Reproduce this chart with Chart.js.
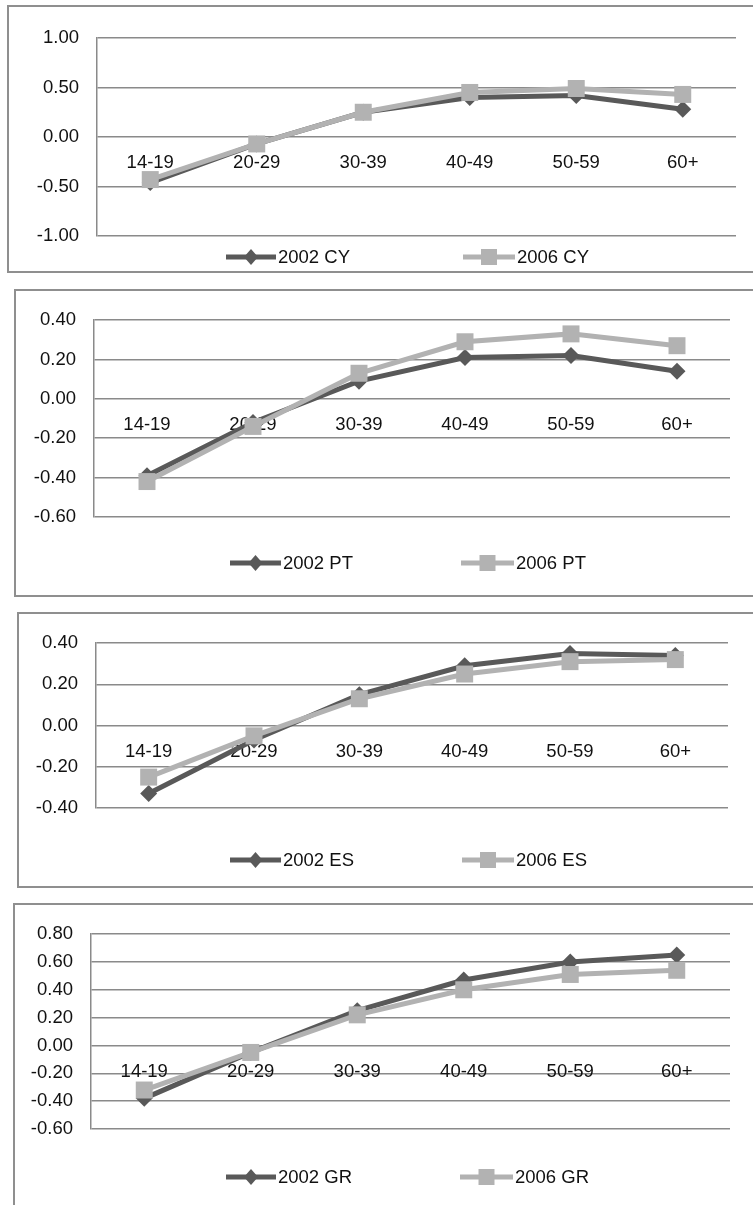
<!DOCTYPE html>
<html>
<head>
<meta charset="utf-8">
<script src="https://cdn.jsdelivr.net/npm/chart.js@4"></script>
<style>
  body { margin: 0; background: #fff; width: 753px; height: 1205px; position: relative; overflow: hidden; }
  .box { position: absolute; border: 2px solid #8f8f8f; box-sizing: border-box; }
  canvas { position: absolute; }
</style>
</head>
<body>
<div class="box" style="left:7px;top:5px;width:800px;height:268px"></div>
<div class="box" style="left:14px;top:289px;width:800px;height:308px"></div>
<div class="box" style="left:17px;top:612px;width:800px;height:276px"></div>
<div class="box" style="left:13px;top:903px;width:800px;height:400px"></div>

<canvas id="chartCY" style="left:9px;top:7px" width="744" height="264"></canvas>
<canvas id="chartPT" style="left:16px;top:291px" width="737" height="303"></canvas>
<canvas id="chartES" style="left:19px;top:614px" width="734" height="271"></canvas>
<canvas id="chartGR" style="left:15px;top:905px" width="738" height="300"></canvas>

<script>
// age groups on the x axis
const ageGroups = ["14-19", "20-29", "30-39", "40-49", "50-59", "60+"];

// values, one array per series
const cy2002 = [-0.46, -0.07, 0.25, 0.40, 0.42, 0.28];
const cy2006 = [-0.43, -0.07, 0.25, 0.45, 0.49, 0.43];
const pt2002 = [-0.39, -0.12, 0.09, 0.21, 0.22, 0.14];
const pt2006 = [-0.42, -0.14, 0.13, 0.29, 0.33, 0.27];
const es2002 = [-0.33, -0.07, 0.15, 0.29, 0.35, 0.34];
const es2006 = [-0.25, -0.05, 0.13, 0.25, 0.31, 0.32];
const gr2002 = [-0.38, -0.05, 0.25, 0.47, 0.60, 0.65];
const gr2006 = [-0.32, -0.05, 0.22, 0.40, 0.51, 0.54];

const DARK = "#595959";
const LIGHT = "#b2b2b2";
const GRID = "#8a8a8a";
const FONT = { family: "'Liberation Sans', Arial, sans-serif", size: 18.5 };

// draws the Excel style legend: a thick line with the marker in the middle
const lineLegend = {
  id: "lineLegend",
  afterDraw(chart, args, opts) {
    const ctx = chart.ctx;
    ctx.save();
    chart.data.datasets.forEach((ds, i) => {
      const [x1, x2] = opts.items[i];
      const y = opts.y;
      ctx.strokeStyle = ds.borderColor;
      ctx.lineWidth = 5;
      ctx.beginPath();
      ctx.moveTo(x1, y);
      ctx.lineTo(x2, y);
      ctx.stroke();
      const mx = (x1 + x2) / 2;
      ctx.fillStyle = ds.borderColor;
      ctx.beginPath();
      if (ds.pointStyle === "rectRot") {
        ctx.moveTo(mx, y - 8);
        ctx.lineTo(mx + 7, y);
        ctx.lineTo(mx, y + 8);
        ctx.lineTo(mx - 7, y);
        ctx.closePath();
      } else {
        ctx.rect(mx - 8, y - 8, 16, 16);
      }
      ctx.fill();
      ctx.fillStyle = "#111";
      ctx.font = FONT.size + "px " + FONT.family;
      ctx.textAlign = "left";
      ctx.textBaseline = "middle";
      ctx.fillText(ds.label, x2 + 2, y + 1);
    });
    ctx.restore();
  }
};

// frame: all positions in page pixels
function makeChart(id, country, first, second, yMin, yMax, yStep, frame) {
  const canvas = document.getElementById(id);
  const cl = frame.canvasLeft, ct = frame.canvasTop;
  return new Chart(canvas, {
    type: "line",
    data: {
      labels: ageGroups,
      datasets: [
        {
          label: "2002 " + country,
          data: first,
          borderColor: DARK,
          backgroundColor: DARK,
          borderWidth: 5,
          pointStyle: "rectRot",
          pointRadius: 8.5,
          pointHoverRadius: 8.5,
          pointBorderWidth: 0,
          order: 1,
        },
        {
          label: "2006 " + country,
          data: second,
          borderColor: LIGHT,
          backgroundColor: LIGHT,
          borderWidth: 5,
          pointStyle: "rect",
          pointRadius: 12,
          pointHoverRadius: 12,
          pointBorderWidth: 0,
          order: 0,
        },
      ],
    },
    options: {
      responsive: false,
      animation: false,
      devicePixelRatio: 1,
      layout: {
        padding: {
          left: 0,
          top: frame.plotTop - ct,
          bottom: ct + canvas.height - frame.plotBottom,
          right: cl + canvas.width - frame.plotRight,
        },
      },
      plugins: {
        legend: { display: false },
        tooltip: { enabled: false },
        lineLegend: {
          y: frame.legendY - ct,
          items: frame.legend.map(([a, b]) => [a - cl, b - cl]),
        },
      },
      scales: {
        x: {
          position: { y: 0 },
          offset: true,
          grid: { display: false },
          border: { display: false },
          ticks: { color: "#111", font: FONT, padding: 7, maxRotation: 0 },
        },
        y: {
          min: yMin,
          max: yMax,
          afterFit: (scale) => { scale.width = frame.plotLeft - cl; },
          ticks: {
            stepSize: yStep,
            color: "#111",
            font: FONT,
            padding: 18,
            callback: (v) => Number(v).toFixed(2),
          },
          grid: { color: GRID, lineWidth: 1.5, drawTicks: false },
          border: { color: GRID, width: 1.5 },
        },
      },
    },
    plugins: [lineLegend],
  });
}

makeChart("chartCY", "CY", cy2002, cy2006, -1, 1, 0.5, {
  canvasLeft: 9, canvasTop: 7,
  plotLeft: 97, plotRight: 736, plotTop: 38, plotBottom: 236,
  legendY: 257, legend: [[226, 276], [463, 515]],
});

makeChart("chartPT", "PT", pt2002, pt2006, -0.6, 0.4, 0.2, {
  canvasLeft: 16, canvasTop: 291,
  plotLeft: 94, plotRight: 730, plotTop: 316, plotBottom: 517,
  legendY: 563, legend: [[230, 281], [461, 514]],
});

makeChart("chartES", "ES", es2002, es2006, -0.4, 0.4, 0.2, {
  canvasLeft: 19, canvasTop: 614,
  plotLeft: 96, plotRight: 728, plotTop: 639, plotBottom: 808,
  legendY: 860, legend: [[230, 281], [462, 514]],
});

makeChart("chartGR", "GR", gr2002, gr2006, -0.6, 0.8, 0.2, {
  canvasLeft: 15, canvasTop: 905,
  plotLeft: 91, plotRight: 730, plotTop: 930, plotBottom: 1129,
  legendY: 1177, legend: [[226, 276], [460, 513]],
});
</script>
</body>
</html>
